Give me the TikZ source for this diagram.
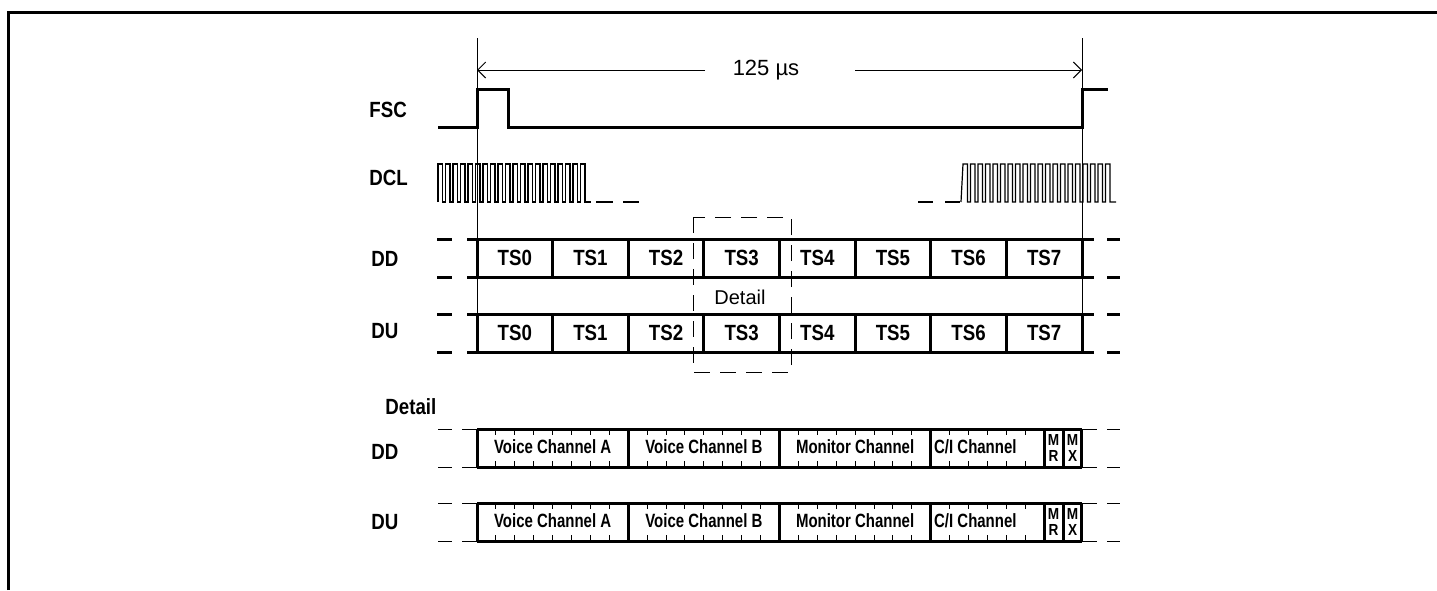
\documentclass[tikz,border=0pt]{standalone}
\usepackage{fontspec}
\setmainfont{Liberation Sans}
\newfontfamily\nfont{Liberation Sans}[FakeStretch=0.85]
\newfontfamily\nnfont{Liberation Sans}[FakeStretch=0.78]
\usetikzlibrary{arrows.meta}
\begin{document}
\begin{tikzpicture}[x=0.5pt,y=-0.5pt,
  thk/.style={line width=1.5pt},
  thn/.style={line width=0.5pt},
  clk/.style={line width=0.6pt},
  sig/.style={font=\nfont\bfseries\fontsize{11}{13}\selectfont, anchor=west, inner sep=0pt},
  tslab/.style={font=\nfont\bfseries\fontsize{11}{12}\selectfont, inner sep=0pt},
  chlab/.style={font=\nnfont\bfseries\fontsize{9.6}{11}\selectfont, inner sep=0pt},
  bitlab/.style={font=\nfont\bfseries\fontsize{8}{9}\selectfont, inner sep=0pt},
  reglab/.style={font=\fontsize{10}{11}\selectfont, inner sep=1pt},
  dimarrow/.style={thn,-{Straight Barb[length=4pt,width=8pt]}}
]
\useasboundingbox (0,0) rectangle (1437,590);
% frame
\draw[thk] (8,590) -- (8,12) -- (1437,12);
% reference verticals
\draw[thn] (477,38) -- (477,353);
\draw[thn] (1082,38) -- (1082,353);
% period arrow
\coordinate (aL) at (477,70);
\coordinate (aR) at (1082,70);
\node[reglab, font=\fontsize{11}{12}\selectfont] (t125) at (766,70) {125 µs};
\coordinate (gL) at (705,70);
\coordinate (gR) at (855,70);
\draw[dimarrow] (gL) -- (aL);
\draw[dimarrow] (gR) -- (aR);
% labels
\node[sig] (lfsc) at (369,110) {FSC};
\node[sig] (ldcl) at (369,178) {DCL};
\node[sig] (ldd) at (371,259) {DD};
\node[sig] (ldu) at (371,331) {DU};
\node[sig] (ldet) at (385,407) {Detail};
\node[sig] (ldd2) at (371,452) {DD};
\node[sig] (ldu2) at (371,522) {DU};
% FSC
\draw[thk] (438,127) -- (477,127) -- (477,89) -- (508,89) -- (508,127) -- (1082,127) -- (1082,89) -- (1108,89);
% DCL
\draw[clk] (438,202) \foreach \i in {0,...,19} { -- ({438+\i*7.5},164) -- ({442.5+\i*7.5},164) -- ({442.5+\i*7.5},202) -- ({445.5+\i*7.5},202) } -- (591,202);
\draw[clk] (596,202) -- (613,202);
\draw[clk] (623,202) -- (639,202);
\draw[clk] (918,202) -- (933,202);
\draw[clk] (945,202) -- (960,202);
\draw[clk] (961,202) \foreach \i in {0,...,19} { -- ({963+\i*7.5},164) -- ({967.5+\i*7.5},164) -- ({967.5+\i*7.5},202) -- ({970.5+\i*7.5},202) } -- (1116,202);
% TS rows
\foreach \top/\nm in {239/dd,314/du} {
  \pgfmathsetmacro{\bot}{\top+38}
  \foreach \yy in {\top,\bot} {
    \draw[thk] (467,\yy) -- (1094,\yy);
    \draw[thk] (437,\yy) -- (452,\yy);
    \draw[thk] (1107,\yy) -- (1120,\yy);
  }
  \foreach \k in {0,...,8} {
    \draw[thk] ({477+75.625*\k},\top) -- ({477+75.625*\k},\bot);
  }
  \foreach \k in {0,...,7} {
    \node[tslab] (\nm ts\k) at ({477+75.625*(\k+0.5)},{\top+19}) {TS\k};
  }
}
% detail dashed box
\draw[thn, dash pattern=on 8pt off 5pt] (693,217) rectangle (791,372);
\node[reglab] (detl) at (740,297) {Detail};
% detail rows
\def\bw{18.906}
\foreach \top/\nm in {429/ddd,503/ddu} {
  \pgfmathsetmacro{\bot}{\top+38}
  \foreach \yy in {\top,\bot} {
    \draw[thk] (477,\yy) -- (1082,\yy);
    \draw[thn] (462,\yy) -- (477,\yy);
    \draw[thn] (1082,\yy) -- (1097,\yy);
    \draw[thn] (438,\yy) -- (452,\yy);
    \draw[thn] (1107,\yy) -- (1120,\yy);
  }
  \foreach \k in {0,8,16,24,30,31,32} {
    \draw[thk] ({477+\bw*\k},\top) -- ({477+\bw*\k},\bot);
  }
  \foreach \k in {1,...,7,9,10,...,15,17,18,...,23,25,26,...,29} {
    \draw[thn] ({477+\bw*\k},\top) -- ({477+\bw*\k},{\top+6});
    \draw[thn] ({477+\bw*\k},{\bot-6}) -- ({477+\bw*\k},\bot);
  }
  \node[chlab] (\nm va) at ({477+\bw*4},{\top+18}) {Voice Channel A};
  \node[chlab] (\nm vb) at ({477+\bw*12},{\top+18}) {Voice Channel B};
  \node[chlab] (\nm mon) at ({477+\bw*20},{\top+18}) {Monitor Channel};
  \node[chlab, anchor=west] (\nm ci) at ({477+\bw*24+3},{\top+18}) {C/I Channel};
  \node[bitlab] (\nm m1) at ({477+\bw*30.5},{\top+11}) {M};
  \node[bitlab] (\nm r1) at ({477+\bw*30.5},{\top+27}) {R};
  \node[bitlab] (\nm m2) at ({477+\bw*31.5},{\top+11}) {M};
  \node[bitlab] (\nm x2) at ({477+\bw*31.5},{\top+27}) {X};
}
\end{tikzpicture}
\end{document}
